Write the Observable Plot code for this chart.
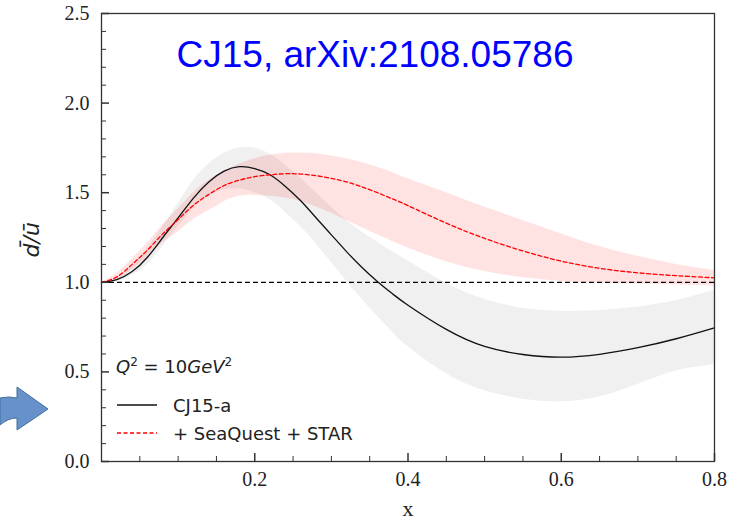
<!DOCTYPE html>
<html>
<head>
<meta charset="utf-8">
<script src="https://cdn.jsdelivr.net/npm/d3@7"></script>
<script src="https://cdn.jsdelivr.net/npm/@observablehq/plot@0.6"></script>
<style>
  html, body { margin: 0; padding: 0; background: #fff; }
  #chart { width: 732px; height: 520px; position: relative; }
</style>
</head>
<body>
<div id="chart"></div>
<script>
// ---- data ----
const xGrid = [0, 0.02, 0.04, 0.06, 0.08, 0.10, 0.12, 0.14, 0.16, 0.18, 0.20, 0.22, 0.24, 0.26, 0.28, 0.30, 0.32, 0.34, 0.36, 0.38, 0.40, 0.45, 0.50, 0.55, 0.60, 0.65, 0.70, 0.75, 0.80];
const cj15a   = [1.0, 1.015, 1.06, 1.14, 1.25, 1.36, 1.47, 1.56, 1.62, 1.645, 1.635, 1.60, 1.535, 1.455, 1.36, 1.265, 1.17, 1.083, 1.005, 0.935, 0.872, 0.737, 0.642, 0.597, 0.582, 0.598, 0.635, 0.685, 0.746];
const cj15aLo = [1.0, 1.005, 1.04, 1.10, 1.20, 1.31, 1.41, 1.48, 1.515, 1.52, 1.50, 1.46, 1.39, 1.31, 1.215, 1.11, 1.005, 0.905, 0.81, 0.72, 0.64, 0.49, 0.395, 0.347, 0.333, 0.36, 0.43, 0.505, 0.54];
const cj15aHi = [1.0, 1.02, 1.09, 1.19, 1.31, 1.44, 1.57, 1.66, 1.72, 1.75, 1.75, 1.715, 1.655, 1.58, 1.50, 1.42, 1.345, 1.28, 1.225, 1.17, 1.12, 0.995, 0.905, 0.855, 0.838, 0.842, 0.862, 0.898, 0.955];
const seaStar   = [1.0, 1.03, 1.10, 1.18, 1.27, 1.35, 1.43, 1.49, 1.54, 1.57, 1.59, 1.600, 1.606, 1.604, 1.595, 1.580, 1.560, 1.532, 1.50, 1.465, 1.428, 1.33, 1.245, 1.175, 1.118, 1.078, 1.053, 1.037, 1.025];
const seaStarLo = [1.0, 1.01, 1.07, 1.14, 1.22, 1.28, 1.35, 1.40, 1.45, 1.48, 1.485, 1.48, 1.47, 1.45, 1.42, 1.385, 1.345, 1.305, 1.265, 1.228, 1.192, 1.115, 1.06, 1.025, 1.005, 0.995, 0.99, 0.985, 0.98];
const seaStarHi = [1.0, 1.05, 1.13, 1.22, 1.32, 1.41, 1.50, 1.57, 1.62, 1.66, 1.69, 1.71, 1.72, 1.722, 1.718, 1.705, 1.69, 1.668, 1.642, 1.612, 1.578, 1.50, 1.42, 1.345, 1.27, 1.20, 1.145, 1.10, 1.066];

const xMajorTicks = [0.2, 0.4, 0.6, 0.8];
const xMinorTicks = [0.05, 0.1, 0.15, 0.25, 0.3, 0.35, 0.45, 0.5, 0.55, 0.65, 0.7, 0.75];
const yMajorTicks = [0, 0.5, 1.0, 1.5, 2.0, 2.5];
const yMinorTicks = [0.1, 0.2, 0.3, 0.4, 0.6, 0.7, 0.8, 0.9, 1.1, 1.2, 1.3, 1.4, 1.6, 1.7, 1.8, 1.9, 2.1, 2.2, 2.3, 2.4];
const referenceLine = [1.0];

const titleText = "CJ15, arXiv:2108.05786";
const xLabel = "x";
const yLabel = "d\u0304/u\u0304";
const seriesNames = ["CJ15-a", "+ SeaQuest + STAR"];

// ---- build table ----
const rows = xGrid.map((x, i) => ({
  x, cj: cj15a[i], cjLo: cj15aLo[i], cjHi: cj15aHi[i],
  sq: seaStar[i], sqLo: seaStarLo[i], sqHi: seaStarHi[i]
}));

const W = 732, H = 520, mL = 101, mR = 18, mT = 13, mB = 59;
const frameW = W - mL - mR, frameH = H - mT - mB;
const curve = "natural";
const axisColor = "#333";

const chart = Plot.plot({
  width: W, height: H,
  marginLeft: mL, marginRight: mR, marginTop: mT, marginBottom: mB,
  style: { fontFamily: "Liberation Serif", fontSize: "20px", background: "white", overflow: "visible", color: "#222" },
  x: { domain: [0, 0.8] },
  y: { domain: [0, 2.5] },
  marks: [
    Plot.areaY(rows, { x: "x", y1: "cjLo", y2: "cjHi", fill: "#000", fillOpacity: 0.06, curve }),
    Plot.areaY(rows, { x: "x", y1: "sqLo", y2: "sqHi", fill: "#ff0000", fillOpacity: 0.11, curve }),
    Plot.ruleY(referenceLine, { stroke: "#000", strokeWidth: 1.2, strokeDasharray: "5,3" }),
    Plot.line(rows, { x: "x", y: "cj", stroke: "#111", strokeWidth: 1.3, curve }),
    Plot.line(rows, { x: "x", y: "sq", stroke: "#ff0000", strokeWidth: 1.3, strokeDasharray: "4,2.5", curve }),
    // inward ticks
    Plot.tickX(xMinorTicks, { x: d => d, insetTop: frameH - 5, stroke: axisColor, strokeWidth: 1 }),
    Plot.tickX(xMajorTicks, { x: d => d, insetTop: frameH - 8, stroke: axisColor, strokeWidth: 1.5 }),
    Plot.tickY(yMinorTicks, { y: d => d, insetRight: frameW - 5, stroke: axisColor, strokeWidth: 1 }),
    Plot.tickY(yMajorTicks, { y: d => d, insetRight: frameW - 8, stroke: axisColor, strokeWidth: 1.5 }),
    Plot.frame({ stroke: axisColor, strokeWidth: 1.3 }),
    // tick labels
    Plot.axisX(xMajorTicks, { tickSize: 0, tickPadding: 10, tickFormat: d => d.toFixed(1), label: null, fontSize: 20 }),
    Plot.axisY(yMajorTicks, { tickSize: 0, tickPadding: 12, tickFormat: d => d.toFixed(1), label: null, fontSize: 20 }),
    Plot.text([titleText], { frameAnchor: "top", dx: -33, dy: 27, lineAnchor: "top", fontSize: 37, fill: "#0000ff", fontFamily: "Liberation Sans" }),
    Plot.text([xLabel], { frameAnchor: "bottom", dy: 47, lineAnchor: "middle", fontSize: 22, fill: "#222" }),
    Plot.text([yLabel], { frameAnchor: "left", dx: -70, dy: 20, rotate: -90, fontSize: 22, fontStyle: "italic", fontFamily: "DejaVu Sans", fill: "#222" })
  ]
});

document.getElementById("chart").appendChild(chart);

// ---- legend (inside frame, bottom-left) ----
const svg = d3.select(chart);
const left = mL, bottom = H - mB;
const lg = svg.append("g").attr("font-family", "DejaVu Sans").attr("fill", "#222").attr("text-anchor", "start");
const q = lg.append("text").attr("x", left + 15).attr("y", bottom - 88).attr("font-size", 18);
q.append("tspan").attr("font-style", "italic").text("Q");
q.append("tspan").attr("font-size", 12).attr("dy", -7).text("2");
q.append("tspan").attr("dy", 7).text(" = 10");
q.append("tspan").attr("font-style", "italic").text("GeV");
q.append("tspan").attr("font-size", 12).attr("dy", -7).text("2");

lg.append("line").attr("x1", left + 16).attr("x2", left + 56).attr("y1", bottom - 56).attr("y2", bottom - 56)
  .attr("stroke", "#111").attr("stroke-width", 1.3);
lg.append("text").attr("x", left + 72).attr("y", bottom - 49).attr("font-size", 18).text(seriesNames[0]);
lg.append("line").attr("x1", left + 16).attr("x2", left + 56).attr("y1", bottom - 28).attr("y2", bottom - 28)
  .attr("stroke", "#ff0000").attr("stroke-width", 1.3).attr("stroke-dasharray", "4,2.5");
lg.append("text").attr("x", left + 72).attr("y", bottom - 21).attr("font-size", 18).text(seriesNames[1]);

// ---- decorative blue arrow at left ----
svg.append("path")
  .attr("d", "M0,398 Q9,396 17,398 L17,387 L48,409 L17,430 L17,418 Q8,418 0,425 Z")
  .attr("fill", "#6691cb").attr("stroke", "#41719c").attr("stroke-width", 1);
</script>
</body>
</html>
